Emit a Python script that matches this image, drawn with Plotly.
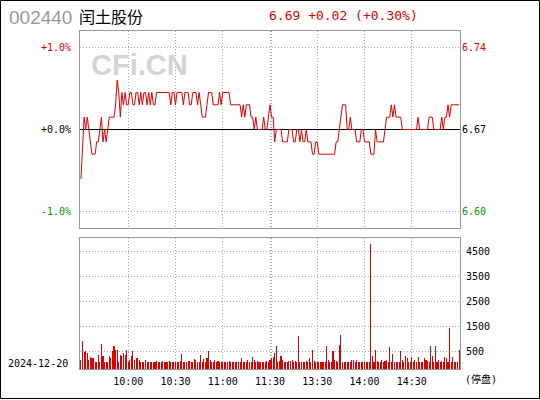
import plotly.graph_objects as go

# ---------------- data ----------------
STOCK_CODE = "002440"
STOCK_NAME = "闰土股份"
TRADE_DATE = "2024-12-20"
PREV_CLOSE = 6.67
LAST_PRICE = 6.69
CHANGE = 0.02
CHANGE_PCT = 0.30

# minute index 0..240  (0 = 9:30, 120 = 11:30/13:00, 240 = 15:00)
minutes = list(range(241))

price_am = [
    6.63, 6.66, 6.68, 6.67, 6.68, 6.67, 6.66, 6.65, 6.65, 6.65,
    6.66, 6.66, 6.67, 6.68, 6.66, 6.67, 6.66, 6.67, 6.68, 6.68,
    6.68, 6.68, 6.69, 6.71, 6.70, 6.68, 6.70, 6.69, 6.70, 6.69,
    6.69, 6.70, 6.70, 6.69, 6.69, 6.70, 6.70, 6.69, 6.70, 6.69,
    6.70, 6.70, 6.69, 6.70, 6.69, 6.70, 6.69, 6.69, 6.70, 6.70,
    6.70, 6.70, 6.70, 6.70, 6.70, 6.70, 6.70, 6.69, 6.70, 6.70,
    6.69, 6.70, 6.70, 6.70, 6.70, 6.69, 6.70, 6.70, 6.70, 6.69,
    6.69, 6.70, 6.70, 6.70, 6.69, 6.70, 6.69, 6.68, 6.68, 6.68,
    6.69, 6.70, 6.70, 6.70, 6.69, 6.69, 6.69, 6.69, 6.70, 6.69,
    6.70, 6.70, 6.70, 6.70, 6.70, 6.69, 6.69, 6.69, 6.69, 6.69,
    6.69, 6.69, 6.68, 6.69, 6.68, 6.69, 6.69, 6.69, 6.68, 6.68,
    6.67, 6.68, 6.67, 6.67, 6.67, 6.67, 6.68, 6.67, 6.67, 6.68,
    6.69,
]
price_pm = [
    6.68, 6.68, 6.66, 6.67, 6.67, 6.67, 6.67, 6.66, 6.66, 6.66,
    6.66, 6.67, 6.67, 6.67, 6.66, 6.66, 6.67, 6.67, 6.66, 6.67,
    6.66, 6.66, 6.67, 6.66, 6.66, 6.66, 6.65, 6.65, 6.66, 6.66,
    6.65, 6.65, 6.65, 6.65, 6.65, 6.65, 6.65, 6.65, 6.65, 6.65,
    6.65, 6.66, 6.66, 6.67, 6.68, 6.69, 6.69, 6.69, 6.67, 6.67,
    6.68, 6.67, 6.67, 6.67, 6.66, 6.66, 6.66, 6.67, 6.67, 6.66,
    6.66, 6.66, 6.66, 6.65, 6.65, 6.65, 6.67, 6.66, 6.66, 6.66,
    6.66, 6.66, 6.67, 6.68, 6.68, 6.68, 6.69, 6.68, 6.69, 6.68,
    6.68, 6.68, 6.68, 6.67, 6.67, 6.67, 6.67, 6.67, 6.67, 6.67,
    6.67, 6.67, 6.67, 6.68, 6.67, 6.67, 6.67, 6.67, 6.67, 6.67,
    6.68, 6.68, 6.68, 6.67, 6.67, 6.67, 6.67, 6.67, 6.68, 6.67,
    6.68, 6.68, 6.69, 6.68, 6.69, 6.69, 6.69, 6.69, 6.69, 6.69,
]
price = price_am + price_pm

volume_am = [
    152, 912, 445, 485, 419, 152, 245, 219, 205, 72,
    72, 352, 72, 792, 312, 72, 72, 72, 285, 219,
    485, 712, 552, 525, 72, 352, 312, 419, 325, 552,
    72, 152, 312, 485, 125, 232, 219, 152, 72, 45,
    45, 152, 45, 72, 45, 72, 45, 45, 99, 45,
    72, 72, 99, 45, 72, 45, 99, 72, 45, 72,
    72, 45, 72, 99, 365, 72, 45, 72, 99, 99,
    72, 72, 179, 152, 45, 45, 352, 45, 179, 45,
    205, 485, 125, 45, 72, 152, 45, 99, 45, 45,
    45, 45, 72, 45, 99, 72, 72, 45, 45, 45,
    72, 45, 205, 72, 45, 72, 152, 72, 45, 245,
    125, 45, 99, 72, 45, 45, 45, 72, 99, 72,
    152,
]
volume_pm = [
    219, 245, 419, 685, 72, 85, 312, 152, 72, 72,
    45, 85, 112, 152, 72, 85, 45, 1085, 45, 72,
    72, 45, 112, 72, 205, 72, 552, 85, 45, 72,
    72, 45, 72, 45, 72, 712, 152, 45, 72, 485,
    152, 112, 45, 752, 1150, 72, 45, 72, 72, 72,
    45, 152, 152, 72, 152, 72, 72, 72, 72, 45,
    45, 72, 45, 4780, 285, 72, 552, 112, 72, 72,
    152, 72, 112, 152, 72, 645, 45, 392, 72, 45,
    45, 45, 499, 152, 72, 285, 205, 45, 72, 245,
    72, 152, 45, 245, 45, 45, 72, 219, 152, 112,
    72, 685, 285, 72, 685, 72, 152, 45, 112, 72,
    245, 205, 72, 1405, 45, 245, 45, 72, 72, 525,
]
volume = volume_am + volume_pm

time_tickvals = [30, 60, 90, 120, 150, 180, 210]
time_ticktext = ["10:00", "10:30", "11:00", "11:30", "13:30", "14:00", "14:30"]
vol_tickvals = [500, 1500, 2500, 3500, 4500]
vol_ticktext = ["500", "1500", "2500", "3500", "4500"]
pct_levels = [1.0, 0.0, -1.0]
pct_ticktext = ["+1.0%", "+0.0%", "-1.0%"]
price_ticktext = ["6.74", "6.67", "6.60"]

# ---------------- style ----------------
W, H = 540, 400
ML, MR, MT, MB = 80, 80, 31, 31
RED = "#dd0000"
GREEN = "#009900"
GRID = "#a8a8a8"
BORDER = "#999999"
MONO = "DejaVu Sans Mono, Noto Sans CJK SC, monospace"
PCT_SPAN = 1.196           # half-range of the top panel, in %
VOL_MIN, VOL_MAX = -220, 5020
X_RANGE = [-0.6, 240.6]
label_colors = [RED, "#000000", GREEN]

pw, ph = W - ML - MR, H - MT - MB
def px_x(x):
    return (x - ML) / pw
def px_y(y):
    return (H - MB - y) / ph

top_dom = [px_y(228), 1.0]
bot_dom = [0.0, px_y(238)]

price_tickvals = [PREV_CLOSE * (1 + p / 100) for p in pct_levels]
left_text = [f"<span style='color:{c}'>{t}</span>" for c, t in zip(label_colors, pct_ticktext)]
right_text = [f"<span style='color:{c}'>{t}</span>" for c, t in zip(label_colors, price_ticktext)]
y_range = [PREV_CLOSE * (1 - PCT_SPAN / 100), PREV_CLOSE * (1 + PCT_SPAN / 100)]

fig = go.Figure()
# previous-close reference line
fig.add_trace(go.Scatter(x=X_RANGE, y=[PREV_CLOSE, PREV_CLOSE], mode="lines",
                         line=dict(color="#000", width=1), xaxis="x", yaxis="y",
                         hoverinfo="skip", showlegend=False, cliponaxis=True))
fig.add_trace(go.Scatter(x=minutes, y=price, mode="lines",
                         line=dict(color=RED, width=1), xaxis="x", yaxis="y",
                         hoverinfo="skip", showlegend=False))
fig.add_trace(go.Bar(x=minutes, y=[v - VOL_MIN for v in volume], base=VOL_MIN,
                     width=0.05, marker=dict(color=RED, line=dict(width=0)),
                     xaxis="x2", yaxis="y2", hoverinfo="skip", showlegend=False))
fig.add_trace(go.Scatter(x=[None], y=[None], xaxis="x", yaxis="y3",
                         hoverinfo="skip", showlegend=False))

grid_common = dict(showgrid=True, gridcolor=GRID, gridwidth=1, griddash="1px,2px",
                   showline=True, linecolor=BORDER, linewidth=1, mirror=True,
                   zeroline=False, ticks="")
xcommon = dict(grid_common, range=X_RANGE, tickvals=time_tickvals,
               minor=dict(tickvals=[121], showgrid=True, gridcolor=GRID,
                          griddash="1px,2px", ticks=""))

fig.update_layout(
    width=W, height=H,
    margin=dict(l=ML, r=MR, t=MT, b=MB, pad=0),
    paper_bgcolor="white", plot_bgcolor="white",
    bargap=0,
    xaxis=dict(xcommon, domain=[0, 1], anchor="y", showticklabels=False),
    yaxis=dict(grid_common, domain=top_dom, range=y_range,
               tickvals=price_tickvals, ticktext=left_text,
               tickfont=dict(family=MONO, size=10, color="#000"),
               ticklabelstandoff=6),
    yaxis3=dict(overlaying="y", side="right", range=y_range, anchor="x",
                tickvals=price_tickvals, ticktext=right_text, showgrid=False,
                zeroline=False, showline=False, ticks="",
                tickfont=dict(family=MONO, size=10, color="#000"),
                ticklabelstandoff=1),
    xaxis2=dict(xcommon, domain=[0, 1], anchor="y2",
                ticktext=time_ticktext,
                tickfont=dict(family=MONO, size=10, color="#000"),
                ticklabelstandoff=3),
    yaxis2=dict(grid_common, domain=bot_dom, range=[VOL_MIN, VOL_MAX], side="right",
                tickvals=vol_tickvals, ticktext=vol_ticktext,
                tickfont=dict(family=MONO, size=10, color="#000"),
                ticklabelstandoff=3),
)

# outer frame
fig.add_shape(type="rect", xref="paper", yref="paper",
              x0=px_x(0.5), x1=px_x(539.5), y0=px_y(398.5), y1=px_y(0.5),
              line=dict(color="#000", width=1), layer="above")

ann = []
ann.append(dict(text=STOCK_CODE, x=px_x(7), y=px_y(17), xanchor="left", yanchor="middle",
                font=dict(family="Liberation Sans, Arial", size=19, color="#999999")))
ann.append(dict(text=STOCK_NAME, x=px_x(77), y=px_y(15.5), xanchor="left", yanchor="middle",
                font=dict(family="Noto Sans CJK SC", size=16, color="#000")))
ann.append(dict(text=f"{LAST_PRICE:.2f} {CHANGE:+.2f} ({CHANGE_PCT:+.2f}%)",
                x=px_x(267), y=px_y(15.5), xanchor="left", yanchor="middle",
                font=dict(family=MONO, size=13, color=RED)))
ann.append(dict(text="CFi.CN", x=px_x(89), y=px_y(65), xanchor="left", yanchor="middle",
                font=dict(family="Liberation Sans, Arial", size=29, color="#d4d4d4", weight="bold")))
ann.append(dict(text=TRADE_DATE, x=px_x(6), y=px_y(363), xanchor="left", yanchor="middle",
                font=dict(family=MONO, size=10, color="#000")))
ann.append(dict(text="(停盘)", x=px_x(463), y=px_y(379), xanchor="left", yanchor="middle",
                font=dict(family=MONO, size=10, color="#000")))
for a in ann:
    a.update(xref="paper", yref="paper", showarrow=False)
fig.update_layout(annotations=ann)

fig.write_html("out.html", config={"displayModeBar": False},
               post_script="document.body.style.margin='0';")
